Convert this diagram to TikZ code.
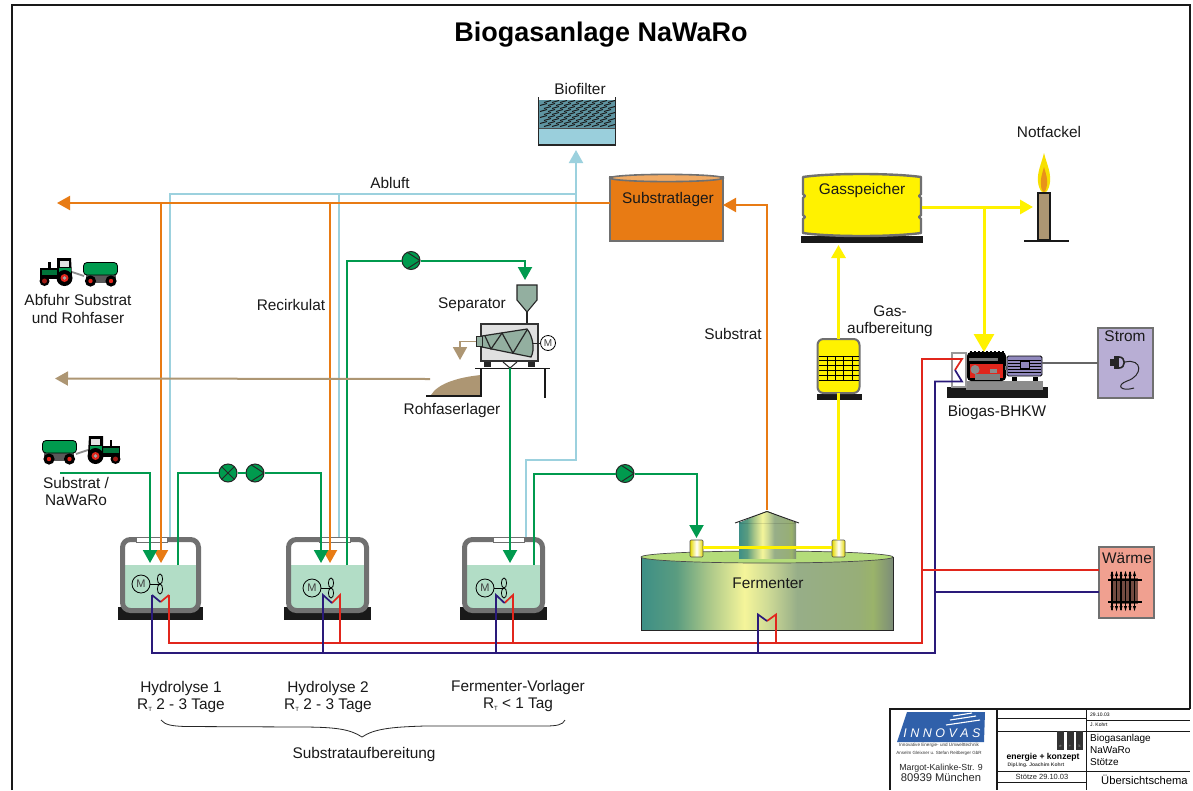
\documentclass[tikz,border=0pt]{standalone}
\usepackage{fontspec}
\setmainfont{Liberation Sans}
\usetikzlibrary{arrows.meta,calc}
\definecolor{grn}{HTML}{009A4E}
\definecolor{org}{HTML}{E87B14}
\definecolor{lbl}{HTML}{9CD1DE}
\definecolor{rdp}{HTML}{E1261C}
\definecolor{nvy}{HTML}{2A1A7A}
\definecolor{yel}{HTML}{FFF200}
\definecolor{brn}{HTML}{AD9673}
\definecolor{wal}{HTML}{707070}
\definecolor{liq}{HTML}{B2DDC6}
\definecolor{fa}{HTML}{3D8F86}
\definecolor{fb}{HTML}{5A9C80}
\definecolor{fc}{HTML}{A5C488}
\definecolor{fd}{HTML}{F5F59A}
\definecolor{fe}{HTML}{D0DC96}
\definecolor{ff}{HTML}{97AE88}
\definecolor{fg}{HTML}{97AE78}
\definecolor{fh}{HTML}{9AB36A}
\definecolor{fi}{HTML}{7C8C78}
\definecolor{ftop}{HTML}{B4DC7A}
\definecolor{biod}{HTML}{5F95A2}
\definecolor{biow}{HTML}{9ACFDC}
\definecolor{subt}{HTML}{F0AA64}
\definecolor{flma}{HTML}{F7E000}
\definecolor{flmb}{HTML}{E8921A}
\definecolor{sepg}{HTML}{93AFA0}
\definecolor{genp}{HTML}{9088BC}
\definecolor{stromc}{HTML}{B8AED4}
\definecolor{waec}{HTML}{F0A090}
\definecolor{radc}{HTML}{734B41}
\definecolor{logob}{HTML}{3060AA}
\pgfdeclarehorizontalshading{fermgrad}{100bp}{
 color(0bp)=(fa); color(25bp)=(fa); color(32bp)=(fb); color(38bp)=(fc); color(45.5bp)=(fd);
 color(50bp)=(fe); color(56bp)=(ff); color(68bp)=(fg); color(71bp)=(fh); color(75bp)=(fi); color(100bp)=(fi)}
\tikzset{
 x=1pt,y=-1pt,
 lab/.style={font=\fontsize{15.4}{17.5}\selectfont,align=center,inner sep=0pt,text=black!90},
 shapebox/.style={inner sep=0pt,outer sep=0pt},
 ptr/.style={-{Triangle[length=13pt,width=14pt]}},
 bigptr/.style={-{Triangle[length=18pt,width=20pt]}},
 pipe/.style={line width=2pt},
 heat/.style={line width=1.7pt},
 grnp/.style={pipe,draw=grn,color=grn},
 orgp/.style={pipe,draw=org,color=org},
 lblp/.style={pipe,draw=lbl,color=lbl},
 yelp/.style={line width=3pt,draw=yel,color=yel},
 brnp/.style={pipe,draw=brn,color=brn},
 pumpr/.style={circle,draw=black!85,fill=grn,minimum size=18pt,inner sep=0pt,line width=1pt,
   path picture={\draw[line width=1pt,black!85] ([xshift=-5pt,yshift=9pt]path picture bounding box.center)--([xshift=9pt]path picture bounding box.center)--([xshift=-5pt,yshift=-9pt]path picture bounding box.center);}},
 pumpx/.style={circle,draw=black!85,fill=grn,minimum size=18pt,inner sep=0pt,line width=1pt,
   path picture={\draw[line width=1pt,black!85] (path picture bounding box.north west)--(path picture bounding box.south east) (path picture bounding box.north east)--(path picture bounding box.south west);}},
 motor/.style={circle,draw=black,line width=.8pt,minimum size=18pt,inner sep=0pt,font=\fontsize{11}{11}\selectfont,text=black!75},
 small/.style={inner sep=0pt,anchor=west},
}
\newcommand\tankunit[4]{% name, xL, width, slot x
 \fill[black!90] (#2-2,607) rectangle (#2+#3+2,620);
 \node[shapebox,minimum width=#3pt,minimum height=76pt] (#1) at (#2+#3/2,575) {};
 \fill[white] (#2+2,539) rectangle (#2+#3-2,566);
 \fill[liq] (#2+3,565) rectangle (#2+#3-3,610);
 \draw[wal,line width=5pt,rounded corners=8pt] (#2+2.5,539.5) rectangle (#2+#3-2.5,610.5);
 \fill[white,draw=wal,line width=.5pt] (#4,537) rectangle (#4+31,542);
}
\newcommand\mixer[4]{% name, cx, cy, prop x
 \node[motor] (#1) at (#2,#3) {M};
 \draw[line width=.8pt] (#1.east) -- (#4,#3);
 \draw[line width=.8pt] (#4,#3-5) ellipse [x radius=2.6pt,y radius=5pt];
 \draw[line width=.8pt] (#4,#3+5) ellipse [x radius=2.6pt,y radius=5pt];
}
\newcommand\tractor{%
 \fill[black!65] (86,274) rectangle (116,283);
 \draw[line width=1.8pt,black!45] (72,272) -- (84,276);
 \fill[grn,draw=black,line width=.8pt,rounded corners=3.5pt] (83.5,262.5) rectangle (117.5,275);
 \foreach \wx in {90.5,111}{\fill[black] (\wx,281) circle (5.6pt); \fill[rdp] (\wx,281) circle (2.2pt);}
 \fill[black] (48,262) rectangle (50.5,269);
 \fill[black] (40,268) rectangle (60,279);
 \fill[grn!75!black] (41.5,269.5) rectangle (58,275);
 \fill[black] (57,258) -- (71,258) -- (72,276) -- (57,276) -- cycle;
 \fill[grn] (58.5,267.5) rectangle (70.5,275);
 \fill[black!12] (60,261) rectangle (69,266.5);
 \fill[black] (64.5,278) circle (8pt); \fill[rdp] (64.5,278) circle (4pt); \fill[black!35] (64.5,278) circle (1.8pt);
 \fill[black] (44.5,281) circle (5pt); \fill[rdp!70!black] (44.5,281) circle (2.5pt);
}
\begin{document}
\begin{tikzpicture}
\path[use as bounding box,fill=white] (0,0) rectangle (1193,790);
% frame
\draw[line width=2.4pt,black!90] (12,790) -- (12,5) -- (1190,5) -- (1190,709);
\node[font=\bfseries\fontsize{27}{30}\selectfont,inner sep=0pt] (title) at (601,35) {Biogasanlage NaWaRo};

% ---------- tanks
\tankunit{hyA}{120}{81}{136}
\tankunit{hyB}{286}{83}{319}
\tankunit{vor}{462}{83}{493}
\mixer{mA}{141}{584}{160}
\mixer{mB}{312}{588}{331}
\mixer{mC}{485}{588}{504}

% ---------- fermenter
\node[shapebox,minimum width=252pt,minimum height=73pt,shading=fermgrad,draw=black!85,line width=.9pt] (ferm) at (767,593.5) {};
\draw[draw=black!70,line width=.7pt,fill=ftop] (767,557) ellipse [x radius=126pt,y radius=6pt];
\node[shapebox,minimum width=57pt,minimum height=36pt,shading=fermgrad] (tower) at (767.5,540) {};
\fill[shading=fermgrad] (739,523) -- (767,511) -- (796,523) -- cycle;
\draw[line width=.9pt,black!85] (735,523) -- (767,511.5) -- (799,523);
\node[shapebox,minimum width=13pt,minimum height=17pt,left color=yel!90!black,right color=yel!90!black,middle color=white,draw=black!70,line width=.6pt,rounded corners=1pt] (zylA) at (696.5,548.5) {};
\node[shapebox,minimum width=13pt,minimum height=17pt,left color=yel!90!black,right color=yel!90!black,middle color=white,draw=black!70,line width=.6pt,rounded corners=1pt] (zylB) at (838.5,548.5) {};

% ---------- biofilter
\fill[biod] (539,100) rectangle (615,128);
\foreach \yy [count=\iy] in {101,104,107,110,113,116,119,122,125}{
 \foreach \xx in {540,548,556,564,572,580,588,596,604}{
  \draw[line width=1pt,black!90] ({\xx+mod(\iy,2)*4},\yy+1.5) -- ({\xx+mod(\iy,2)*4+7},\yy-.5);
 }}
\fill[biow] (539,128) rectangle (615,145);
\node[shapebox,minimum width=78pt,minimum height=49pt] (bio) at (577,121) {};
\draw[line width=1.3pt,black!85] (538.5,97) -- (538.5,145) -- (615.5,145) -- (615.5,97);
\draw[line width=.6pt,black!70] (539,128) -- (615,128);

% ---------- Substratlager
\node[shapebox,minimum width=113pt,minimum height=64pt,fill=org,draw=wal,line width=1.6pt] (subl) at (666.5,209) {};
\draw[draw=wal,line width=1.6pt,fill=subt] (666.5,178) ellipse [x radius=56.5pt,y radius=3.6pt];

% ---------- Gasspeicher
\node[shapebox,minimum width=120pt,minimum height=76pt] (gas) at (861.5,207) {};
\fill[black!90] (800.5,236) rectangle (923,243);
\draw[draw=wal,fill=yel,line width=2.4pt,line join=round] (803,177) .. controls (830,173) and (892,173) .. (921,177) -- (921,194) -- (919,196) -- (921,198) -- (921,215) -- (919,217) -- (921,219) -- (921,233) .. controls (892,237) and (830,237) .. (803,233) -- (803,219) -- (805,217) -- (803,215) -- (803,198) -- (805,196) -- (803,194) -- cycle;

% ---------- Notfackel
\fill[flma] (1044,153) .. controls (1047,165) and (1051,172) .. (1050,182) .. controls (1049,190) and (1046,193) .. (1044,193) .. controls (1042,193) and (1039,190) .. (1038,182) .. controls (1037,172) and (1041,165) .. (1044,153) -- cycle;
\fill[flmb] (1044,167) .. controls (1046,174) and (1048,180) .. (1047,185) .. controls (1046,190) and (1045,192) .. (1044,192) .. controls (1043,192) and (1041,190) .. (1041,185) .. controls (1040,180) and (1042,174) .. (1044,167) -- cycle;
\node[shapebox,minimum width=12pt,minimum height=47pt,fill=brn,draw=black!90,line width=1.3pt] (notf) at (1044,216.5) {};
\draw[line width=1.3pt,black!90] (1024,241) -- (1069,241);

% ---------- Gasaufbereitung filter
\fill[black!90] (817,394) rectangle (862,400);
\node[shapebox,minimum width=42pt,minimum height=54pt,fill=yel,draw=wal,line width=2pt,rounded corners=6pt] (gasf) at (838.5,366) {};
\foreach \yy in {356,360,365,370,375,380}{\draw[line width=.9pt,black] (819,\yy) -- (859,\yy);}
\foreach \xx in {827,835,843,852}{\draw[line width=.9pt,black] (\xx,356) -- (\xx,380);}

% ---------- Separator
\fill[sepg,draw=black!85,line width=1.1pt] (517,285) -- (537,285) -- (537,300) -- (527,312) -- (517,300) -- cycle;
\draw[line width=1.1pt,black!85] (527,312) -- (527,324);
\node[shapebox,minimum width=57pt,minimum height=37pt,fill=black!12,draw=black!80,line width=1.1pt] (sep) at (509.5,342.5) {};
\fill[sepg,draw=black!85,line width=1.2pt] (482,336) -- (527,329) .. controls (533,336) and (535,350) .. (531,357) -- (482,347) -- cycle;
\draw[line width=1.2pt,black!85] (485,336) -- (491,349) -- (502,333) -- (513,353) -- (527,330);
\node[shapebox,minimum width=6pt,minimum height=10pt,fill=sepg,draw=black!85,line width=.9pt] (sepo) at (479,341.5) {};
\node[motor,minimum size=15pt,font=\fontsize{10}{10}\selectfont] (sepm) at (548,343) {M};
\draw[line width=1pt,black!85] (533,343) -- (sepm.west);
\fill[black!85] (484,362) rectangle (491,367);
\fill[black!85] (528,362) rectangle (535,367);
\draw[line width=1pt,black!85] (503,362) -- (510,368) -- (517,362);
\draw[line width=1.6pt,black!90] (475,368.5) -- (550,368.5);
\draw[line width=1.8pt,black!90] (545,368) -- (545,398);
% Rohfaser heap
\fill[brn] (431,395) .. controls (438,383) and (460,377) .. (481,375) -- (481,395) -- cycle;
\draw[line width=1.8pt,black!90] (426,396) -- (481,396) -- (481,369);
\coordinate (heap) at (430,379);

% ---------- BHKW
\fill[black!90] (947,387) rectangle (1048,398);
\fill[black!45] (966,381) rectangle (1043,390);
\node[shapebox,minimum width=101pt,minimum height=46pt] (bhkw) at (997.5,375) {};
\draw[draw=black!40,line width=1.2pt,fill=white] (952,353) rectangle (966,387);
\fill[black,rounded corners=4pt] (967,352) rectangle (1006,381);
\foreach \xx in {970,974,...,1002}{\fill[black] (\xx,350.5) rectangle (\xx+2,353);}
\fill[black!55] (969,358) rectangle (998,361);
\fill[rdp] (970,364) rectangle (1003,378);
\fill[black!45] (975,369.5) circle (4.5pt);
\fill[black!50] (975,374) rectangle (1000,380);
\fill[black!45] (990,369) rectangle (997,373);
\fill[black!50] (1005,366) rectangle (1008,370);
\fill[genp,draw=black,line width=.8pt,rounded corners=1.5pt] (1007,356) rectangle (1042,376);
\foreach \yy in {360,363,366,369,372}{\draw[line width=.5pt,black] (1008,\yy) -- (1041,\yy);}
\fill[genp,draw=black,line width=.7pt] (1020,361) rectangle (1029,368);
\fill[black] (1012,377) rectangle (1017,381);
\fill[black] (1033,377) rectangle (1038,381);

% ---------- Strom
\node[shapebox,minimum width=55pt,minimum height=70pt,fill=stromc,draw=wal,line width=2pt] (strom) at (1125.5,363) {};
\fill[black!85] (1110,359) rectangle (1114,366);
\fill[black!85] (1114,356) rectangle (1119,369);
\draw[black!85,line width=1.6pt] (1119,357) .. controls (1126,357) and (1126,368) .. (1119,368);
\draw[black!85,line width=1pt] (1125,362) .. controls (1143,358) and (1143,376) .. (1127,381) .. controls (1116,385) and (1120,392) .. (1134,388);

% ---------- Waerme
\node[shapebox,minimum width=55pt,minimum height=71pt,fill=waec,draw=wal,line width=2pt] (waerm) at (1126.5,582.5) {};
\fill[radc] (1112,578) rectangle (1138,604);
\foreach \xx in {1112,1116.5,...,1138.5}{
 \draw[black,line width=1.1pt] (\xx,572) -- (\xx,610);
 \fill[black] (\xx,571) -- (\xx+1.6,576) -- (\xx-1.6,576) -- cycle;
 \fill[black] (\xx,611) -- (\xx+1.6,606) -- (\xx-1.6,606) -- cycle;
}
\draw[black,line width=1.8pt] (1108,580) -- (1142,580) (1108,602) -- (1142,602);

% ---------- tractors
\tractor
\begin{scope}[xshift=160pt,yshift=-178pt,xscale=-1]
\tractor
\end{scope}

% ---------- connector ends and junctions
\coordinate (abfOrg) at (57,203);
\coordinate (abfBrn) at (55,378.5);
\coordinate (subIn) at (60,473);
\coordinate (orgA) at (161,203);
\coordinate (orgB) at (330,203);
\coordinate (airA) at (170,194);
\coordinate (airB) at (339,194);
\coordinate (airC) at (576,194);
\coordinate (airD) at (576,460);
\coordinate (airE) at (526,460);
\coordinate (grA) at (150,473);
\coordinate (grBa) at (178,473);
\coordinate (grBb) at (321,473);
\coordinate (grCa) at (347,260.5);
\coordinate (grCb) at (525,260.5);
\coordinate (grDa) at (534,473.5);
\coordinate (grDb) at (696.5,473.5);
\coordinate (jGas) at (984,207);
\coordinate (busR) at (922,643);
\coordinate (busB) at (935,653);
\coordinate (hxTop) at (962,359);
\coordinate (hxMid) at (955,370);
\coordinate (hxBot) at (962,381.5);
\coordinate (subF) at (767,205);

% ---------- pumps
\node[pumpx] (pX) at (228,473) {};
\node[pumpr] (pB) at (255,473) {};
\node[pumpr] (pC) at (411,260.5) {};
\node[pumpr] (pD) at (625,473.5) {};

% ---------- air
\draw[lblp] (airA |- hyA.north) -- (airA) -- (airC);
\draw[lblp] (airB |- hyB.north) -- (airB);
\draw[lblp] (airE |- vor.north) -- (airE) -- (airD) -- (airC);
\draw[lblp,ptr,shorten >=4.5pt] (airC) -- (airC |- bio.south);
% ---------- orange
\draw[orgp,ptr] (subl.west |- abfOrg) -- (abfOrg);
\draw[orgp,ptr] (orgA) -- (161,563);
\draw[orgp,ptr] (orgB) -- (330,563);
\draw[orgp,ptr] (tower.north -| subF) ++(0,-12) -- (subF) -- (subl.east |- subF);
% ---------- green
\draw[grnp,ptr] (subIn) -- (grA) -- (150,563);
\draw[grnp] (grBa |- 0,565) -- (grBa) -- (pX.west);
\draw[grnp] (pX.east) -- (pB.west);
\draw[grnp,ptr] (pB.east) -- (grBb) -- (321,563);
\draw[grnp] (grCa |- 0,565) -- (grCa) -- (pC.west);
\draw[grnp,ptr] (pC.east) -- (grCb) -- (525,280);
\draw[grnp,ptr] (510,368) -- (510,563);
\draw[grnp] (grDa |- 0,565) -- (grDa) -- (pD.west);
\draw[grnp,ptr,shorten >=2pt] (pD.east) -- (grDb) -- (zylA.north);
% ---------- brown
\draw[brnp,ptr] (heap) -- (abfBrn);
\draw[line width=1.8pt,brn,ptr] (sepo.west) -- (460,341.5) -- (460,360);
% ---------- yellow
\draw[yelp] ([yshift=1.5pt]zylA.east) -- ([yshift=1.5pt]zylB.west);
\draw[yelp] (zylB.north) -- (zylB.north |- gasf.south);
\draw[yelp,ptr] (zylB.north |- gasf.north) -- (zylB.north |- gas.south);
\draw[yelp] (gas.east) -- (jGas);
\draw[yelp,ptr,shorten >=5pt] (jGas) -- (notf.west |- jGas);
\draw[yelp,bigptr] (jGas) -- (jGas |- bhkw.north);
% ---------- power
\draw[line width=1.6pt,black!60] (1042,363) -- (strom.west |- 0,363);

% ---------- heating circuit
\draw[heat,rdp] (169,595) -- (169,643) -- (busR) -- (hxTop -| busR) -- (hxTop) -- (hxMid);
\draw[heat,nvy] (152,595) -- (152,653) -- (busB) -- (hxBot -| busB) -- (hxBot) -- (hxMid);
\draw[heat,rdp] (160.5,602) -- (169,595);
\draw[heat,nvy] (160.5,602) -- (152,595);
\draw[heat,rdp] (332,603) -- (340,595) -- (340,643);
\draw[heat,nvy] (332,603) -- (323,595) -- (323,653);
\draw[heat,rdp] (504.5,603) -- (513,595) -- (513,643);
\draw[heat,nvy] (504.5,603) -- (496,595) -- (496,653);
\draw[heat,rdp] (767,621) -- (776,614.5) -- (776,643);
\draw[heat,nvy] (767,621) -- (758,614.5) -- (758,653);
\draw[heat,rdp] (922,570) -- (waerm.west |- 0,570);
\draw[heat,nvy] (935,592) -- (waerm.west |- 0,592);

% ---------- labels
\node[lab] (lBio) at (580,89) {Biofilter};
\node[lab] (lAbl) at (390,183) {Abluft};
\node[lab] (lSub) at (668,200) {Substratlager};
\node[lab] (lGas) at (862,191) {Gasspeicher};
\node[lab] (lNot) at (1049,132) {Notfackel};
\node[lab] (lAuf) at (890,321) {Gas-\\aufbereitung};
\node[lab] (lRec) at (291,305) {Recirkulat};
\node[lab] (lSep) at (472,305) {Separator};
\node[lab] (lSt) at (733,334) {Substrat};
\node[lab] (lAbf) at (78,309) {Abfuhr Substrat\\und Rohfaser};
\node[lab] (lRoh) at (452,411) {Rohfaserlager};
\node[lab] (lNaw) at (76,491.5) {Substrat /\\NaWaRo};
\node[lab] (lBhk) at (997,413) {Biogas-BHKW};
\node[lab] (lStr) at (1125,336) {Strom};
\node[lab] (lWae) at (1127,558) {Wärme};
\node[lab] (lFer) at (768,583) {Fermenter};
\node[lab] (lHa) at (181,697) {Hydrolyse 1\\R\raisebox{-2pt}{\fontsize{6}{6}\selectfont T} 2 - 3 Tage};
\node[lab] (lHb) at (328,697) {Hydrolyse 2\\R\raisebox{-2pt}{\fontsize{6}{6}\selectfont T} 2 - 3 Tage};
\node[lab] (lHc) at (518,696) {Fermenter-Vorlager\\R\raisebox{-2pt}{\fontsize{6}{6}\selectfont T} < 1 Tag};
\node[lab] (lSa) at (364,755) {Substrataufbereitung};
\draw[line width=.8pt,black!85] (161,720) .. controls (165,725) and (172,726) .. (185,726.5) -- (300,727) .. controls (335,727) and (350,729) .. (362,737) .. controls (374,729) and (390,727) .. (425,726) -- (545,726) .. controls (556,726) and (563,725) .. (565,720);

% ---------- title block
\fill[white] (891,710) rectangle (1189,790);
\begin{scope}[line width=2.4pt,black!90]
\draw (890,790) -- (890,709) -- (1190,709);
\draw (997,709) -- (997,790);
\end{scope}
\begin{scope}[line width=.9pt,black!90]
\draw (1086,709) -- (1086,790);
\draw (997,718.5) -- (1086,718.5);
\draw (997,731) -- (1190,731);
\draw (1086,720) -- (1190,720);
\draw (997,771) -- (1190,771);
\draw (997,782) -- (1086,782);
\end{scope}
\fill[logob] (907,712) -- (985,712) -- (984,742) -- (897,742) -- cycle;
\draw[white,line width=1.1pt] (953,716) -- (972,713) (950,720) -- (976,716) (946,725) -- (980,720);
\node[inner sep=0pt,text=white,font=\itshape\fontsize{12.5}{13}\selectfont] (lgo) at (942,733) {I N N O V A S};
\node[inner sep=0pt,font=\fontsize{4.6}{5}\selectfont,text=black!80] (lg1) at (939,745.5) {Innovative Energie- und Umwelttechnik};
\node[inner sep=0pt,font=\fontsize{4.5}{5}\selectfont,text=black!80] (lg2) at (939,753.5) {Anselm Gleixner u. Stefan Reitberger GbR};
\node[inner sep=0pt,font=\fontsize{8.8}{10}\selectfont,text=black!85] (lg3) at (941,768) {Margot-Kalinke-Str. 9};
\node[inner sep=0pt,font=\fontsize{11.2}{12}\selectfont,text=black!85] (lg4) at (941,777.5) {80939 München};
\foreach \xx/\lt in {1057/e,1066.5/+,1076/k}{
 \node[shapebox,minimum width=7pt,minimum height=19pt,fill=black!80] at (\xx+3.5,740.5) {};
 \node[inner sep=0pt,text=black!40,font=\fontsize{4}{4}\selectfont] at (\xx+3.5,746) {\lt};
}
\node[inner sep=0pt,font=\bfseries\fontsize{8.6}{9}\selectfont] (ek) at (1043,757) {energie + konzept};
\node[inner sep=0pt,font=\bfseries\fontsize{5}{6}\selectfont,text=black!75] (ek2) at (1036,765.5) {Dipl.Ing. Joachim Kohrt};
\node[inner sep=0pt,font=\fontsize{7.5}{8}\selectfont,text=black!85] (dt) at (1042,776.5) {Stötze 29.10.03};
\node[small,font=\fontsize{5}{5}\selectfont] (d1) at (1090,714.5) {29.10.03};
\node[small,font=\fontsize{5}{5}\selectfont] (d2) at (1090,724.5) {J. Kohrt};
\node[small,align=left,font=\fontsize{10}{12}\selectfont] (d3) at (1090,750) {Biogasanlage\\NaWaRo\\Stötze};
\node[small,font=\fontsize{11.2}{12}\selectfont] (d4) at (1101,779.5) {Übersichtschema};
\end{tikzpicture}
\end{document}
